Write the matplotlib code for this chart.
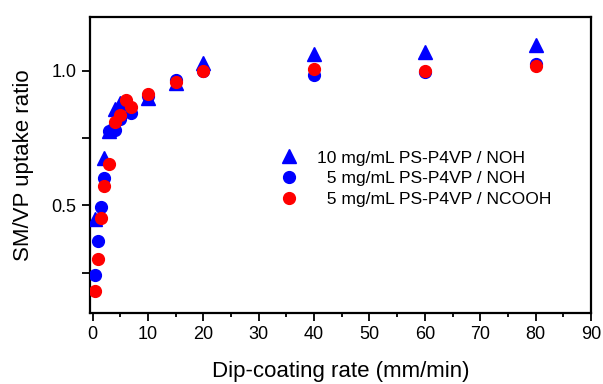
import matplotlib
matplotlib.use("Agg")
import matplotlib.pyplot as plt
from matplotlib.ticker import MultipleLocator, FixedLocator, FixedFormatter

plt.rcParams['font.family'] = ['Liberation Sans', 'DejaVu Sans']

# 10 mg/mL PS-P4VP / NOH (triangles)
x_tri = [0.5, 2, 3, 4, 5, 10, 15, 20, 40, 60, 80]
y_tri = [0.45, 0.675, 0.775, 0.857, 0.88, 0.90, 0.955, 1.028, 1.063, 1.068, 1.097]

# 5 mg/mL PS-P4VP / NOH (blue circles)
x_blue = [0.5, 1, 1.5, 2, 3, 4, 5, 6, 7, 10, 15, 20, 40, 60, 80]
y_blue = [0.24, 0.366, 0.495, 0.60, 0.775, 0.78, 0.82, 0.88, 0.844, 0.905, 0.965, 1.0, 0.983, 0.994, 1.026]

# 5 mg/mL PS-P4VP / NCOOH (red circles)
x_red = [0.5, 1, 1.5, 2, 3, 4, 5, 6, 7, 10, 15, 20, 40, 60, 80]
y_red = [0.18, 0.30, 0.452, 0.571, 0.652, 0.81, 0.835, 0.89, 0.865, 0.915, 0.957, 1.0, 1.006, 1.0, 1.018]

labels = ["10 mg/mL PS-P4VP / NOH", "  5 mg/mL PS-P4VP / NOH", "  5 mg/mL PS-P4VP / NCOOH"]

fig = plt.figure(figsize=(6.03, 3.84), dpi=100)
ax = fig.add_axes([0.149, 0.185, 0.831, 0.771])

ax.plot(x_tri, y_tri, linestyle='none', marker='^', color='#0000ff', markersize=9.5, label=labels[0], zorder=3)
ax.plot(x_blue, y_blue, linestyle='none', marker='o', color='#0000ff', markersize=8.5, label=labels[1], zorder=4)
ax.plot(x_red, y_red, linestyle='none', marker='o', color='#ff0000', markersize=8.5, label=labels[2], zorder=5)

ax.set_xlim(-0.5, 90)
ax.set_ylim(0.1, 1.2)

ax.xaxis.set_major_locator(MultipleLocator(10))
ax.xaxis.set_minor_locator(MultipleLocator(5))
ax.yaxis.set_major_locator(FixedLocator([0.25, 0.5, 0.75, 1.0]))
ax.yaxis.set_major_formatter(FixedFormatter(["", "0.5", "", "1.0"]))

ax.tick_params(axis='both', which='major', direction='out', length=5.5, width=1.3, labelsize=13, pad=4)
ax.tick_params(axis='both', which='minor', direction='out', length=3, width=1.3)
ax.tick_params(top=False, right=False)

for s in ax.spines.values():
    s.set_linewidth(1.6)

ax.set_xlabel("Dip-coating rate (mm/min)", fontsize=16, labelpad=13)
ax.set_ylabel("SM/VP uptake ratio", fontsize=16, labelpad=13)

ax.legend(loc='center left', bbox_to_anchor=(0.338, 0.453), frameon=False,
          fontsize=12.6, handletextpad=0.6, labelspacing=0.32, borderpad=0.2)

fig.savefig("out.png", dpi=100)
